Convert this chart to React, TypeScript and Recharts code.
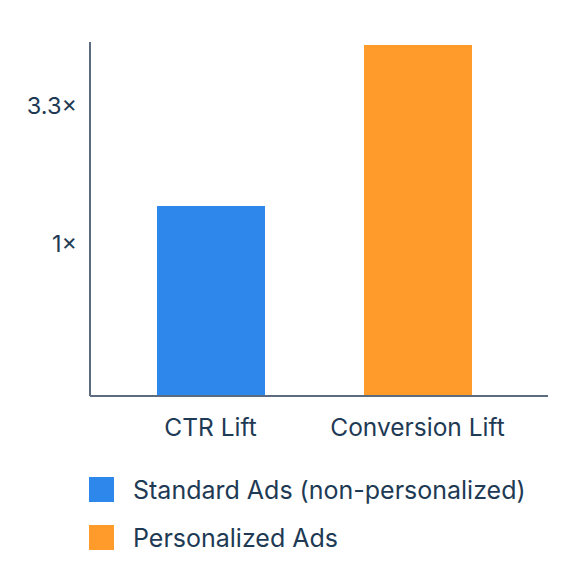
import { BarChart, Bar, XAxis, YAxis, Cell } from 'recharts';

const metrics = ['CTR Lift', 'Conversion Lift'];
const liftValues = [1.39, 5.59];
const seriesNames = ['Standard Ads (non-personalized)', 'Personalized Ads'];
const seriesColors = ['#2E87EB', '#FF9B2B'];
const yTicks = [1, 3.3];

const data = metrics.map((metric, i) => ({
  metric,
  lift: liftValues[i],
}));

const textColor = '#1E3A54';
const axisColor = '#5B6B80';
const font = 'Inter, "Noto Sans", sans-serif';

export default function App() {
  return (
    <div style={{ position: 'relative', width: 558, height: 560, fontFamily: font }}>
      <BarChart
        width={558}
        height={440}
        data={data}
        margin={{ top: 34, right: 18, bottom: 2, left: 0 }}
      >
        <XAxis
          dataKey="metric"
          tickLine={false}
          tickMargin={17}
          height={50}
          padding={{ left: 17, right: 27 }}
          axisLine={{ stroke: axisColor, strokeWidth: 2 }}
          tick={{ fill: textColor, fontSize: 24.5, fontFamily: font }}
        />
        <YAxis
          type="number"
          scale="log"
          domain={[0.2685, 5.74]}
          allowDataOverflow
          ticks={yTicks}
          tickFormatter={(v) => `${v}×`}
          width={82}
          tickLine={false}
          tickMargin={7}
          axisLine={{ stroke: axisColor, strokeWidth: 2 }}
          tick={{ fill: textColor, fontSize: 23.5, fontFamily: font }}
        />
        <Bar dataKey="lift" barSize={108} isAnimationActive={false}>
          {data.map((d, i) => (
            <Cell key={d.metric} fill={seriesColors[i]} />
          ))}
        </Bar>
      </BarChart>
      <div style={{ position: 'absolute', left: 81, top: 469 }}>
        {seriesNames.map((name, i) => (
          <div
            key={name}
            style={{
              display: 'flex',
              alignItems: 'center',
              height: 25,
              marginBottom: 23,
            }}
          >
            <div style={{ width: 25, height: 25, background: seriesColors[i] }} />
            <span style={{ marginLeft: 19, fontSize: 25, color: textColor, whiteSpace: 'nowrap' }}>
              {name}
            </span>
          </div>
        ))}
      </div>
    </div>
  );
}
